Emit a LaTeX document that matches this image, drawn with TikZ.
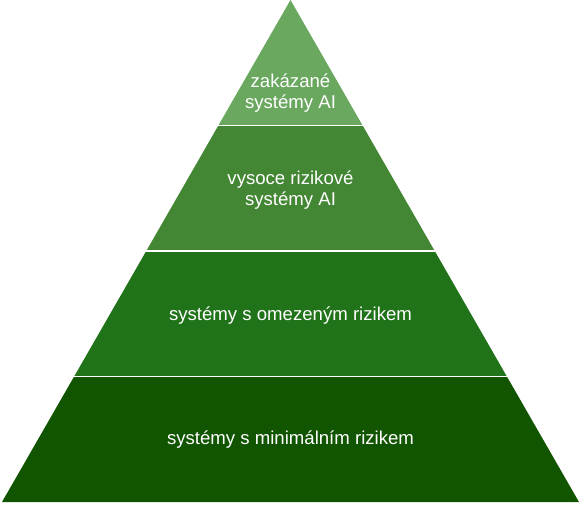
\documentclass[tikz,border=0pt]{standalone}
\usepackage{fontspec}
\setmainfont{Liberation Sans}
\usetikzlibrary{calc}
\definecolor{lay1}{HTML}{6AA85F}
\definecolor{lay2}{HTML}{438634}
\definecolor{lay3}{HTML}{21731A}
\definecolor{lay4}{HTML}{125500}
\tikzset{
  layertext/.style={text=white, font=\fontsize{18.6pt}{21pt}\selectfont, align=center},
  sep/.style={white, line width=1.5pt}
}
\begin{document}
\begin{tikzpicture}[x=1pt,y=1pt]
\useasboundingbox (0,0) rectangle (581,504);
\coordinate (A) at (290.5,504);
\coordinate (L) at (2,2);
\coordinate (R) at (579,2);
\coordinate (L1) at ($(A)!0.25!(L)$);
\coordinate (R1) at ($(A)!0.25!(R)$);
\coordinate (L2) at ($(A)!0.5!(L)$);
\coordinate (R2) at ($(A)!0.5!(R)$);
\coordinate (L3) at ($(A)!0.75!(L)$);
\coordinate (R3) at ($(A)!0.75!(R)$);
\fill[lay1] (A) -- (L1) -- (R1) -- cycle;
\fill[lay2] (L1) -- (L2) -- (R2) -- (R1) -- cycle;
\fill[lay3] (L2) -- (L3) -- (R3) -- (R2) -- cycle;
\fill[lay4] (L3) -- (L) -- (R) -- (R3) -- cycle;
\draw[sep] (L1) -- (R1);
\draw[sep] (L2) -- (R2);
\draw[sep] (L3) -- (R3);
\node[layertext] (t1) at (290.5,411) {zakázané\\systémy AI};
\node[layertext] (t2) at (290.5,314) {vysoce rizikové\\systémy AI};
\node[layertext] (t3) at (290.5,188) {systémy s omezeným rizikem};
\node[layertext] (t4) at (290.5,64) {systémy s minimálním rizikem};
\end{tikzpicture}
\end{document}
